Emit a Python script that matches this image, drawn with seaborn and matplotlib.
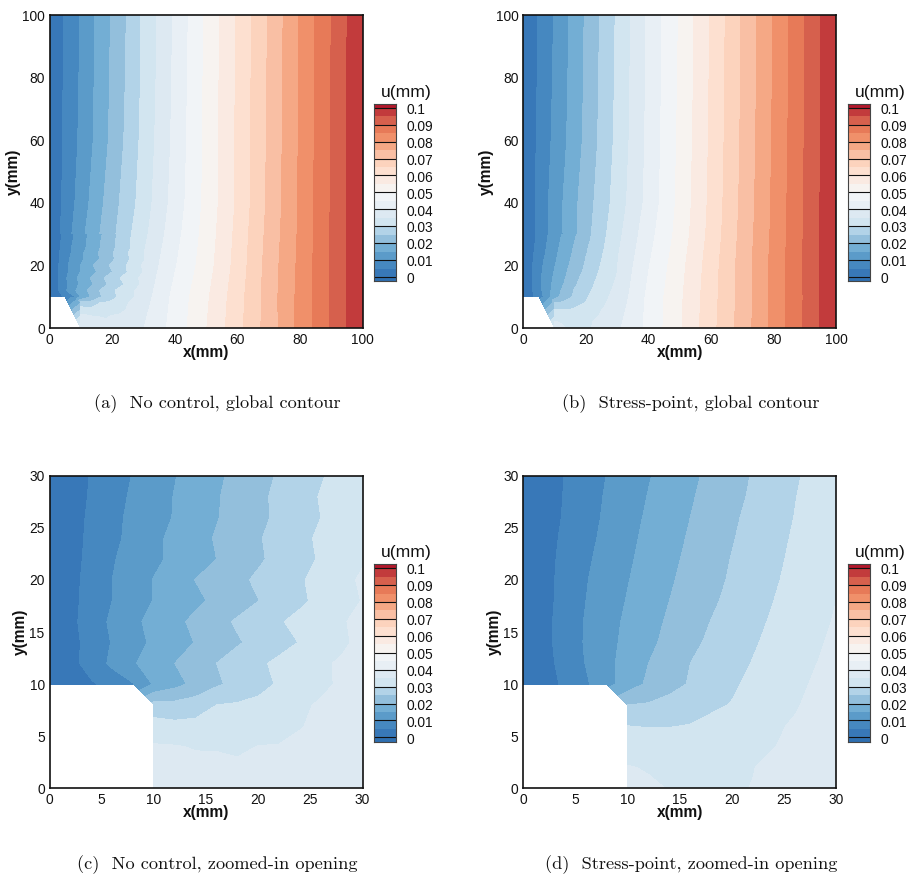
import numpy as np
import matplotlib
matplotlib.use("Agg")
import matplotlib.pyplot as plt
from matplotlib.colors import ListedColormap, BoundaryNorm
import seaborn as sns

nan = np.nan

# ---- colour bands, low to high ----
band_colors = ["#2f6fb0", "#3878b8", "#4688c0", "#5b9bc9", "#73aed4", "#93bfdc", "#b2d3e8",
               "#d2e5f0", "#dde9f2", "#e8eff5", "#f1f4f7", "#f7f3f0", "#faeae2", "#fde0d0",
               "#fcd3bd", "#f9bfa4", "#f5a885", "#f0906a", "#e77a58", "#d6604d", "#c23b3c", "#b2182b"]
band_edges = [-0.0025] + [round(0.005 * i, 4) for i in range(21)] + [0.1025]
cbar_labels = ["0", "0.01", "0.02", "0.03", "0.04", "0.05", "0.06", "0.07", "0.08", "0.09", "0.1"]
cbar_values = [0.0, 0.01, 0.02, 0.03, 0.04, 0.05, 0.06, 0.07, 0.08, 0.09, 0.1]

# ---- whole-domain displacement u(mm) ----
global_x = [0, 5, 10, 15, 20, 25, 30, 40, 50, 60, 70, 80, 90, 100]
global_y = [0, 10, 20, 30, 40, 60, 80, 100]

u_global_nc = [
    [nan, nan, .0390, .0380, .0380, .0388, .0399, .0469, .0548, .0633, .0722, .0815, .0905, .0999],
    [0, .0056, .0155, .0228, .0285, .0327, .0375, .0464, .0541, .0628, .0723, .0815, .0906, .0999],
    [0, .0084, .0152, .0210, .0257, .0305, .0356, .0445, .0526, .0619, .0720, .0812, .0906, .0999],
    [0, .0074, .0136, .0190, .0238, .0289, .0336, .0431, .0519, .0614, .0715, .0809, .0904, .0999],
    [0, .0065, .0122, .0177, .0229, .0275, .0324, .0420, .0513, .0608, .0710, .0807, .0904, .0999],
    [0, .0060, .0110, .0161, .0213, .0263, .0315, .0413, .0511, .0608, .0708, .0806, .0904, .0999],
    [0, .0058, .0106, .0158, .0208, .0258, .0310, .0410, .0510, .0607, .0706, .0805, .0902, .0999],
    [0, .0057, .0104, .0156, .0206, .0255, .0309, .0407, .0507, .0606, .0704, .0804, .0900, .0999],
]

u_global_sp = [
    [nan, nan, .0372, .0345, .0346, .0366, .0391, .0463, .0544, .0634, .0722, .0815, .0907, .0999],
    [0, .0076, .0175, .0245, .0294, .0332, .0365, .0461, .0541, .0630, .0721, .0815, .0906, .0999],
    [0, .0082, .0148, .0205, .0256, .0304, .0351, .0447, .0533, .0626, .0721, .0816, .0908, .0999],
    [0, .0064, .0124, .0173, .0232, .0284, .0335, .0431, .0520, .0617, .0716, .0812, .0906, .0999],
    [0, .0067, .0122, .0176, .0226, .0274, .0322, .0417, .0514, .0613, .0712, .0810, .0906, .0999],
    [0, .0061, .0112, .0162, .0212, .0263, .0313, .0412, .0511, .0609, .0709, .0807, .0903, .0999],
    [0, .0057, .0107, .0158, .0208, .0260, .0309, .0411, .0507, .0607, .0706, .0805, .0902, .0999],
    [0, .0055, .0104, .0156, .0206, .0257, .0307, .0409, .0505, .0606, .0705, .0804, .0901, .0999],
]

# ---- values on the 2 mm mesh around the opening ----
mesh_x = [0, 2, 4, 6, 8, 10, 12, 14, 16, 18, 20, 22, 24, 26, 28, 30]
mesh_y = [0, 2, 4, 6, 8, 10, 12, 14, 16, 18, 20, 22, 24, 26, 28, 30]

u_mesh_nc = [
    [nan, nan, nan, nan, nan, .0390, .0385, .0380, .0380, .0378, .0380, .0382, .0385, .0390, .0395, .0398],
    [nan, nan, nan, nan, nan, .0372, .0368, .0362, .0360, .0357, .0362, .0365, .0370, .0374, .0378, .0384],
    [nan, nan, nan, nan, nan, .0355, .0353, .0347, .0347, .0343, .0351, .0352, .0358, .0365, .0372, .0380],
    [nan, nan, nan, nan, nan, .0320, .0313, .0314, .0322, .0323, .0331, .0336, .0348, .0358, .0368, .0378],
    [nan, nan, nan, nan, nan, .0269, .0265, .0276, .0300, .0305, .0311, .0322, .0343, .0355, .0365, .0375],
    [0, .0022, .0044, .0070, .0097, .0155, .0185, .0212, .0243, .0264, .0285, .0305, .0322, .0340, .0357, .0372],
    [0, .0034, .0071, .0110, .0145, .0173, .0200, .0225, .0250, .0271, .0292, .0310, .0327, .0344, .0355, .0368],
    [0, .0034, .0068, .0103, .0132, .0159, .0180, .0202, .0223, .0245, .0264, .0283, .0302, .0322, .0342, .0362],
    [0, .0037, .0074, .0109, .0139, .0165, .0188, .0211, .0234, .0256, .0276, .0296, .0312, .0330, .0346, .0362],
    [0, .0036, .0069, .0100, .0126, .0152, .0171, .0190, .0210, .0229, .0249, .0270, .0292, .0312, .0332, .0352],
    [0, .0034, .0068, .0100, .0126, .0152, .0177, .0201, .0220, .0239, .0258, .0276, .0295, .0316, .0336, .0357],
    [0, .0032, .0064, .0096, .0118, .0140, .0161, .0180, .0200, .0221, .0243, .0264, .0284, .0305, .0325, .0345],
    [0, .0031, .0061, .0089, .0113, .0139, .0162, .0183, .0204, .0225, .0246, .0266, .0288, .0308, .0327, .0346],
    [0, .0029, .0059, .0087, .0111, .0132, .0153, .0175, .0197, .0218, .0239, .0259, .0280, .0300, .0322, .0344],
    [0, .0028, .0055, .0082, .0107, .0130, .0152, .0174, .0196, .0217, .0239, .0261, .0282, .0303, .0324, .0346],
    [0, .0027, .0053, .0078, .0102, .0125, .0148, .0170, .0191, .0213, .0234, .0255, .0276, .0296, .0316, .0337],
]

u_mesh_sp = [
    [nan, nan, nan, nan, nan, .0372, .0358, .0348, .0345, .0344, .0346, .0351, .0361, .0371, .0381, .0391],
    [nan, nan, nan, nan, nan, .0353, .0346, .0339, .0337, .0338, .0342, .0349, .0358, .0366, .0374, .0383],
    [nan, nan, nan, nan, nan, .0328, .0321, .0323, .0326, .0329, .0333, .0340, .0349, .0358, .0366, .0375],
    [nan, nan, nan, nan, nan, .0300, .0298, .0298, .0302, .0312, .0323, .0335, .0346, .0353, .0362, .0372],
    [nan, nan, nan, nan, nan, .0250, .0255, .0266, .0278, .0292, .0302, .0317, .0332, .0347, .0358, .0369],
    [0, .0029, .0059, .0093, .0134, .0175, .0209, .0234, .0254, .0274, .0294, .0310, .0325, .0340, .0355, .0365],
    [0, .0033, .0067, .0102, .0137, .0169, .0200, .0225, .0250, .0268, .0285, .0302, .0318, .0334, .0349, .0361],
    [0, .0036, .0071, .0105, .0135, .0163, .0189, .0214, .0238, .0259, .0277, .0295, .0312, .0328, .0344, .0358],
    [0, .0036, .0071, .0104, .0132, .0159, .0183, .0207, .0229, .0251, .0269, .0288, .0306, .0322, .0338, .0354],
    [0, .0034, .0068, .0100, .0127, .0153, .0176, .0200, .0221, .0243, .0261, .0281, .0300, .0317, .0333, .0350],
    [0, .0034, .0066, .0097, .0123, .0148, .0170, .0194, .0216, .0236, .0256, .0275, .0294, .0314, .0331, .0351],
    [0, .0032, .0064, .0092, .0118, .0143, .0166, .0189, .0210, .0231, .0252, .0271, .0290, .0309, .0329, .0349],
    [0, .0030, .0060, .0086, .0113, .0138, .0162, .0184, .0205, .0226, .0247, .0266, .0286, .0305, .0326, .0346],
    [0, .0028, .0055, .0082, .0108, .0133, .0157, .0178, .0200, .0221, .0242, .0263, .0281, .0301, .0321, .0341],
    [0, .0026, .0053, .0079, .0105, .0129, .0152, .0173, .0195, .0216, .0236, .0257, .0278, .0298, .0318, .0338],
    [0, .0026, .0052, .0077, .0101, .0124, .0147, .0168, .0190, .0211, .0232, .0253, .0273, .0294, .0314, .0335],
]

captions = ["(a)  No control, global contour", "(b)  Stress-point, global contour",
            "(c)  No control, zoomed-in opening", "(d)  Stress-point, zoomed-in opening"]
ticks_global = [0, 20, 40, 60, 80, 100]
ticks_zoom = [0, 5, 10, 15, 20, 25, 30]

# ---- style ----
sns.set_theme(style="ticks")
plt.rcParams["font.family"] = ["Liberation Sans", "DejaVu Sans"]

W, H = 909, 876
fig = plt.figure(figsize=(W / 100, H / 100), dpi=100)
cmap = ListedColormap(band_colors)
norm = BoundaryNorm(band_edges, cmap.N)


def rect(left, top, right, bottom):
    return [left / W, 1 - bottom / H, (right - left) / W, (bottom - top) / H]


def colorbar(left, top):
    cax = fig.add_axes(rect(left, top, left + 21.5, top + 177.7))
    # one cell per 0.0025 so that end caps are half a band tall
    cells = -0.00125 + 0.0025 * np.arange(42)
    sns.heatmap(cells.reshape(-1, 1), cmap=cmap, norm=norm, cbar=False, ax=cax,
                xticklabels=False, yticklabels=False)
    cax.set_ylim(0, 42)
    cax.set_xlim(0, 1)
    to_cell = lambda v: (v + 0.0025) / 0.0025
    for v, lab in zip(cbar_values, cbar_labels):
        cax.axhline(to_cell(v), color="#111111", lw=0.8)
        cax.text(1.5, to_cell(v - 0.00135), lab, fontsize=9.9, va="center", ha="left",
                 color="#111111", clip_on=False)
    cax.text(0.3, 44.6, "u(mm)", fontsize=12.6, va="center", ha="left", color="#111111", clip_on=False)
    for s in cax.spines.values():
        s.set_visible(True)
        s.set_color("#444444")
        s.set_linewidth(0.8)


def panel(left, top, u_global, u_mesh, xlim, ticks, caption, cap_x, cap_y, use_global):
    ax = fig.add_axes(rect(left, top, left + 313, top + 312.8))
    if use_global:
        ax.contourf(global_x, global_y, np.array(u_global), levels=band_edges, cmap=cmap, norm=norm)
    ax.contourf(mesh_x, mesh_y, np.array(u_mesh), levels=band_edges, cmap=cmap, norm=norm)
    ax.set_xlim(0, xlim)
    ax.set_ylim(0, xlim)
    ax.set_xticks(ticks)
    ax.set_yticks(ticks)
    ax.tick_params(length=0, labelsize=9.9, pad=3.5, colors="#111111")
    ax.set_xlabel("x(mm)", fontsize=11.2, fontweight="bold", labelpad=-1.5, color="#111111")
    ax.set_ylabel("y(mm)", fontsize=11.2, fontweight="bold", labelpad=1, color="#111111")
    for s in ax.spines.values():
        s.set_linewidth(1.2)
        s.set_color("#111111")
        s.set_zorder(10)
    colorbar(left + 324.7, top + 88.3)
    fig.text(cap_x / W, 1 - cap_y / H, caption, family="cmr10", fontsize=13.2,
             ha="center", va="center", color="#111111")


panel(49.6, 15.2, u_global_nc, u_mesh_nc, 100, ticks_global, captions[0], 217.5, 404, True)
panel(523.4, 15.2, u_global_sp, u_mesh_sp, 100, ticks_global, captions[1], 691, 404, True)
panel(49.6, 475.6, None, u_mesh_nc, 30, ticks_zoom, captions[2], 217.5, 865, False)
panel(523.4, 475.6, None, u_mesh_sp, 30, ticks_zoom, captions[3], 691, 865, False)

fig.savefig("out.png", dpi=100)
